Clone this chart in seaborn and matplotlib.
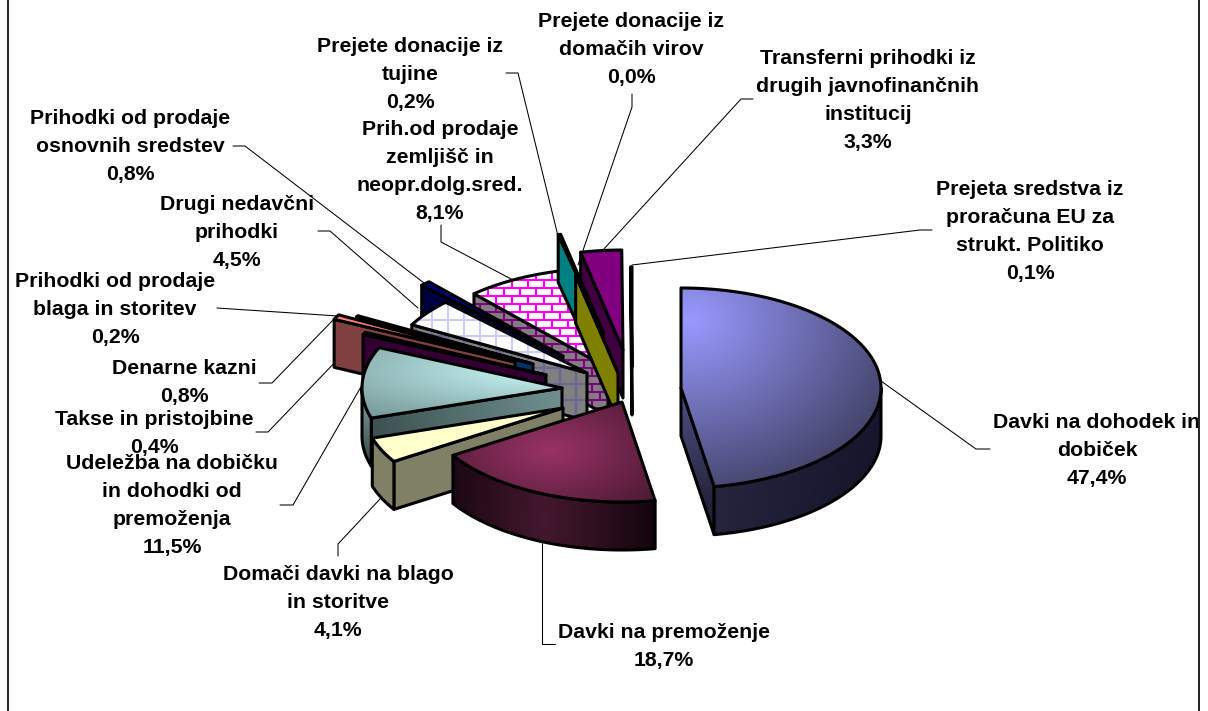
import numpy as np
import matplotlib
matplotlib.use("Agg")
import matplotlib.pyplot as plt
from matplotlib.colors import to_rgb
from matplotlib.patches import Polygon
from matplotlib.collections import LineCollection
import seaborn as sns

# Podatki
nazivi = [
    "Davki na dohodek in\ndobiček",
    "Davki na premoženje",
    "Domači davki na blago\nin storitve",
    "Udeležba na dobičku\nin dohodki od\npremoženja",
    "Takse in pristojbine",
    "Denarne kazni",
    "Prihodki od prodaje\nblaga in storitev",
    "Drugi nedavčni\nprihodki",
    "Prihodki od prodaje\nosnovnih sredstev",
    "Prih.od prodaje\nzemljišč in\nneopr.dolg.sred.",
    "Prejete donacije iz\ntujine",
    "Prejete donacije iz\ndomačih virov",
    "Transferni prihodki iz\ndrugih javnofinančnih\ninstitucij",
    "Prejeta sredstva iz\nproračuna EU za\nstrukt. Politiko",
]
delezi = [47.4, 18.7, 4.1, 11.5, 0.4, 0.8, 0.2, 4.5, 0.8, 8.1, 0.2, 0.0, 3.3, 0.1]

barve_vrh = ["#9999FF", "#993366", "#FFFFCC", "#CCFFFF", "#660066", "#FF8080", "#0066CC",
             "#FFFFFF", "#000080", "#FFFFFF", "#00FFFF", "#FFFF00", "#800080", "#800000"]
barve_stena = ["#4C4C80", "#4C1933", "#808066", "#668080", "#330033", "#804040", "#003366",
               "#808080", "#000040", "#808080", "#008080", "#808000", "#400040", "#400000"]

# Postavitev torte (v pikslih)
sredina = (622, 402)
rx, ry, globina = 200, 100, 48
# odmik vsake rezine od sredine (eksplozija)
odmiki = [(59, -14), (0, 0), (-59, 6), (-60, -14), (-76, -27), (-107, -40), (-89, -38),
          (-35, -29), (-59, -46), (-14, -34), (-19, -70), (-4, -29), (1, -52), (10, -35)]
vrstni_red = [12, 13, 9, 10, 11, 8, 7, 6, 5, 4, 3, 2, 1, 0]

# Nalepke: sredina bloka besedila
pozicije_nalepk = [(1097, 450.5), (664, 646.5), (338, 602.5), (172, 505.5), (154, 433.5), (184, 382.5), (115, 309.5),
                   (237, 232.5), (130, 146.5), (440, 171.5), (410, 74.5), (631, 49.5), (868, 100.5), (1030, 231.5)]
crte_nalepk = [
    [(990, 449), (976, 449), (881, 381)],
    [(555, 644), (542, 644), (542, 543)],
    [(338, 556), (338, 544), (380, 499)],
    [(280, 505), (293, 505), (362, 385)],
    [(256, 432), (268, 432), (365, 331)],
    [(259, 383), (272, 383), (335, 318)],
    [(217, 308), (338, 316)],
    [(318, 231), (330, 231), (418, 308)],
    [(233, 146), (245, 146), (424, 283)],
    [(441, 225), (441, 242), (513, 280)],
    [(506, 73), (518, 73), (558, 236)],
    [(632, 94), (632, 107), (578, 265)],
    [(753, 99), (741, 99), (603, 250)],
    [(932, 230), (920, 230), (632, 265)],
]

sns.set_theme(style="white", font="Liberation Sans")
paleta = sns.color_palette(barve_vrh)

fig, ax = plt.subplots(figsize=(12.08, 7.11), dpi=100)
ax.set_position([0, 0, 1, 1])
ax.set_xlim(0, 1208)
ax.set_ylim(711, 0)
ax.axis("off")

LW = 2.2
zr = [2]


def nov_z():
    zr[0] += 1
    return zr[0]


def rob(cx, cy, kot):
    t = np.radians(kot)
    return cx + rx * np.sin(t), cy - ry * np.cos(t)


def radialni(c0, c1, x0, y0, sx, sy):
    def f(X, Y):
        return np.clip(np.hypot((X - x0) / sx, (Y - y0) / sy), 0, 1), c0, c1
    return f


def linearni(c0, c1, x0, y0, x1, y1):
    def f(X, Y):
        dx, dy = x1 - x0, y1 - y0
        return np.clip(((X - x0) * dx + (Y - y0) * dy) / (dx * dx + dy * dy), 0, 1), c0, c1
    return f


def ploskev(tocke, barva=None, senca=None, vzorec=None):
    tocke = np.array(tocke)
    z = nov_z()
    pat = Polygon(tocke, closed=True, facecolor=barva if barva is not None else "none",
                  edgecolor="none", zorder=z)
    ax.add_patch(pat)
    x0, y0 = tocke.min(axis=0)
    x1, y1 = tocke.max(axis=0)
    if senca is not None and x1 > x0 and y1 > y0:
        X, Y = np.meshgrid(np.arange(x0, x1 + 1), np.arange(y0, y1 + 1))
        t, c0, c1 = senca(X, Y)
        c0, c1 = np.array(to_rgb(c0)), np.array(to_rgb(c1))
        slika = c0 + (c1 - c0) * t[..., None]
        im = ax.imshow(slika, extent=(x0, x1, y1, y0), aspect="auto", zorder=z, interpolation="bilinear")
        im.set_clip_path(pat)
        ax.set_xlim(0, 1208)
        ax.set_ylim(711, 0)
    if vzorec is not None:
        crte = vzorec[0](x0, y0, x1, y1)
        lc = LineCollection(crte, colors=vzorec[1], linewidths=1.5, zorder=z)
        ax.add_collection(lc)
        lc.set_clip_path(pat)
    ax.add_patch(Polygon(tocke, closed=True, facecolor="none", edgecolor="black", linewidth=LW,
                         joinstyle="round", zorder=z))


def mreza(x0, y0, x1, y1):
    korak = 16
    crte = [[(x, y0), (x, y1)] for x in np.arange(x0 - x0 % korak, x1 + 1, korak)]
    crte += [[(x0, y), (x1, y)] for y in np.arange(y0 - y0 % korak, y1 + 1, korak)]
    return crte


def opeke(x0, y0, x1, y1):
    vis, sir = 8, 16
    crte = []
    for i, y in enumerate(np.arange(y0 - y0 % vis, y1 + 1, vis)):
        crte.append([(x0, y), (x1, y)])
        zamik = sir / 2 if i % 2 else 0
        for x in np.arange(x0 - x0 % sir + zamik, x1 + 1, sir):
            crte.append([(x, y), (x, y + vis)])
    return crte


# Senčenja in vzorci posameznih rezin
sence_vrh = {
    0: radialni("#9999FF", "#46466F", 690, 320, 215, 175),
    1: radialni("#993366", "#4C1933", 550, 450, 135, 78),
    3: radialni("#C8F8F8", "#6C8A8A", 540, 370, 300, 70),
}
sence_rob = {
    0: linearni("#25253F", "#14142A", 717, 470, 880, 500),
    1: radialni("#44182F", "#12040C", 545, 520, 115, 400),
    3: linearni("#86A6A6", "#2E4040", 365, 390, 372, 470),
}
sence_rez = {
    0: linearni("#4C4C80", "#23233C", 681, 400, 717, 500),
    3: linearni("#6F8F8F", "#3C5050", 560, 400, 375, 450),
}
vzorci_vrh = {7: (mreza, "#CCCCFF"), 9: (opeke, "#FF00FF")}
vzorci_stena = {7: (mreza, "#666699"), 9: (opeke, "#800080")}

# Koti rezin iz deležev, od vrha v smeri urinega kazalca
meje = np.concatenate([[0], np.cumsum(delezi)]) / sum(delezi) * 360

for i in vrstni_red:
    a, b = meje[i], meje[i + 1]
    cx = sredina[0] + odmiki[i][0]
    cy = sredina[1] + odmiki[i][1]
    v_rez = vzorci_stena.get(i)

    # prerezni ploskvi
    for kot, vidna in ((a, np.sin(np.radians(a)) < -1e-6), (b, np.sin(np.radians(b)) > 1e-6)):
        if vidna:
            px, py = rob(cx, cy, kot)
            ploskev([(cx, cy), (px, py), (px, py + globina), (cx, cy + globina)],
                    barva=barve_stena[i], senca=sence_rez.get(i), vzorec=v_rez)

    # zunanji rob
    z0, z1 = max(a, 90), min(b, 270)
    if z1 > z0:
        koti = np.linspace(z0, z1, 80)
        xs, ys = rob(cx, cy, koti)
        zgoraj = list(zip(xs, ys))
        spodaj = list(zip(xs[::-1], ys[::-1] + globina))
        ploskev(zgoraj + spodaj, barva=barve_stena[i], senca=sence_rob.get(i))

    # vrh
    koti = np.linspace(a, b, max(int(b - a) * 2, 2))
    xs, ys = rob(cx, cy, koti)
    ploskev([(cx, cy)] + list(zip(xs, ys)), barva=paleta[i], senca=sence_vrh.get(i), vzorec=vzorci_vrh.get(i))

# Črte do nalepk
for crta in crte_nalepk:
    xs, ys = zip(*crta)
    ax.plot(xs, ys, color="black", linewidth=0.75, zorder=1)

# Nalepke
for naziv, delez, (x, y) in zip(nazivi, delezi, pozicije_nalepk):
    besedilo = naziv + "\n" + f"{delez:.1f}".replace(".", ",") + "%"
    ax.text(x, y, besedilo, ha="center", va="center", fontsize=15.3, fontweight="bold",
            color="black", linespacing=1.58, zorder=100)

# Okvir
ax.plot([8, 8], [0, 711], color="#222222", linewidth=1.4, zorder=101)
ax.plot([1199, 1199], [0, 711], color="#222222", linewidth=1.4, zorder=101)

fig.savefig("out.png", dpi=100, facecolor="white")
